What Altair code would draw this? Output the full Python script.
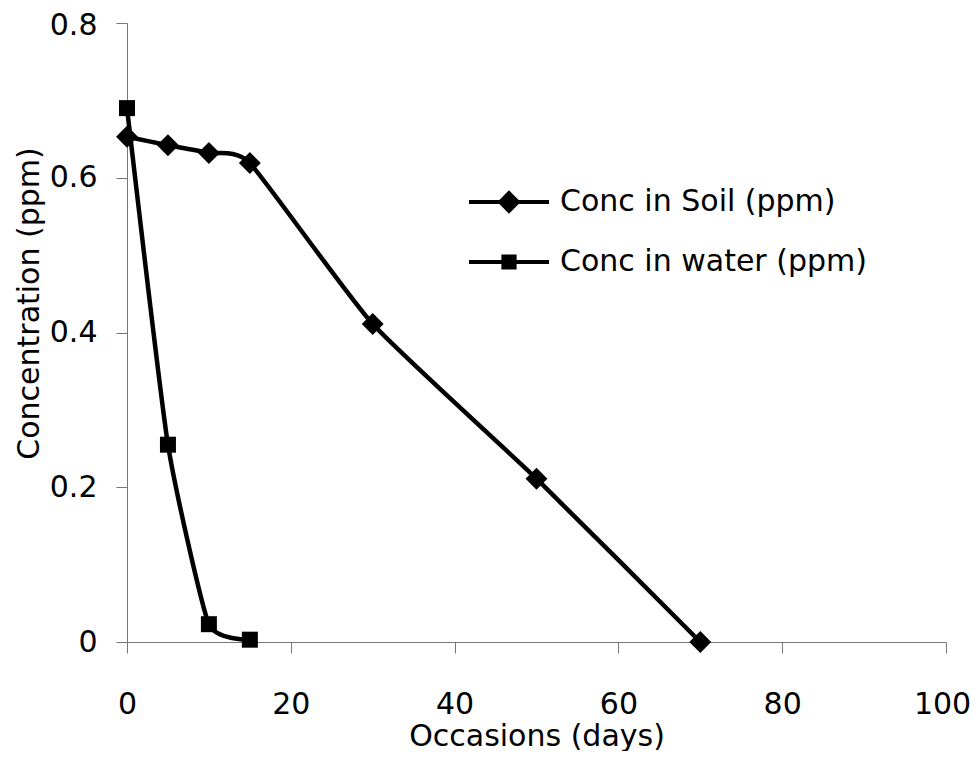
import altair as alt
import pandas as pd

soil_days = [0, 5, 10, 15, 30, 50, 70]
soil_conc = [0.653, 0.642, 0.632, 0.619, 0.411, 0.211, 0.0]
water_days = [0, 5, 10, 15]
water_conc = [0.690, 0.255, 0.023, 0.003]
series_names = ["Conc in Soil (ppm)", "Conc in water (ppm)"]
x_ticks = [0, 20, 40, 60, 80, 100]
y_ticks = [0, 0.2, 0.4, 0.6, 0.8]

df = pd.concat([
    pd.DataFrame({"days": soil_days, "conc": soil_conc, "series": series_names[0]}),
    pd.DataFrame({"days": water_days, "conc": water_conc, "series": series_names[1]}),
], ignore_index=True)

FONT = "DejaVu Sans"

x_enc = alt.X("days:Q", scale=alt.Scale(domain=[0, 100], nice=False),
              axis=alt.Axis(values=x_ticks, title="Occasions (days)", tickSize=11,
                            labelPadding=60, labelBaseline="alphabetic",
                            labelOffset={"condition": {"test": "datum.value == 100", "value": -4},
                                         "value": 0},
                            titleY=103, titleBaseline="alphabetic",
                            labelFlush=False, labelOverlap=False, labelBound=False))
y_enc = alt.Y("conc:Q", scale=alt.Scale(domain=[0, 0.8], nice=False),
              axis=alt.Axis(values=y_ticks, title="Concentration (ppm)", tickSize=11,
                            labelPadding=19,
                            labelOffset={"condition": {"test": "datum.value >= 0.8", "value": 2},
                                         "value": 0},
                            labelExpr="datum.value == 0 ? '0' : format(datum.value, '.1f')",
                            titleX=-89, titleY=280, titleBaseline="alphabetic",
                            titleAngle=270, titleAlign="center",
                            labelFlush=False, labelOverlap=False))

base = alt.Chart(df)

lines = base.mark_line(interpolate="cardinal", tension=0.5, color="black", strokeWidth=4.5).encode(
    x=x_enc, y=y_enc, detail="series:N")

soil_pts = base.transform_filter(alt.datum.series == series_names[0]).mark_point(
    filled=True, shape="diamond", size=480, color="black", opacity=1).encode(x=x_enc, y=y_enc)

water_pts = base.transform_filter(alt.datum.series == series_names[1]).mark_point(
    filled=True, shape="square", size=256, color="black", opacity=1).encode(x=x_enc, y=y_enc)

# legend symbols: line segment with marker; unit = 10px (symbolSize 400)
soil_sym = "M-4,0L4,0M0,-0.88L0.88,0L0,0.88L-0.88,0Z"
water_sym = "M-4,0L4,0M-0.56,-0.56L0.56,-0.56L0.56,0.56L-0.56,0.56Z"

leg = alt.Legend(title=None, orient="none", legendX=367, legendY=164,
                 symbolSize=400, symbolStrokeWidth=4, symbolOpacity=1,
                 labelFont=FONT, labelFontSize=30, labelColor="black",
                 labelOffset=36, rowPadding=28, labelLimit=500)

legend_layer = base.transform_filter("false").mark_point(
    filled=True, color="black", strokeWidth=4, opacity=1).encode(
    x=x_enc, y=y_enc,
    shape=alt.Shape("series:N",
                    scale=alt.Scale(domain=series_names, range=[soil_sym, water_sym]),
                    legend=leg),
    stroke=alt.Stroke("series:N",
                      scale=alt.Scale(domain=series_names, range=["black", "black"]),
                      legend=leg),
)

chart = alt.layer(lines, soil_pts, water_pts, legend_layer).properties(
    width=819, height=619,
    autosize=alt.AutoSizeParams(type="none"),
    padding={"left": 119, "top": 15, "right": 25, "bottom": 109},
    background="white",
).configure_view(stroke=None).configure_axis(
    grid=False, domainColor="#777777", tickColor="#777777", domainWidth=1, tickWidth=1,
    labelFont=FONT, titleFont=FONT, labelFontSize=30, titleFontSize=30,
    titleFontWeight="normal", labelColor="black", titleColor="black",
)

chart.save("out.html", embed_options={"renderer": "svg", "actions": False})
